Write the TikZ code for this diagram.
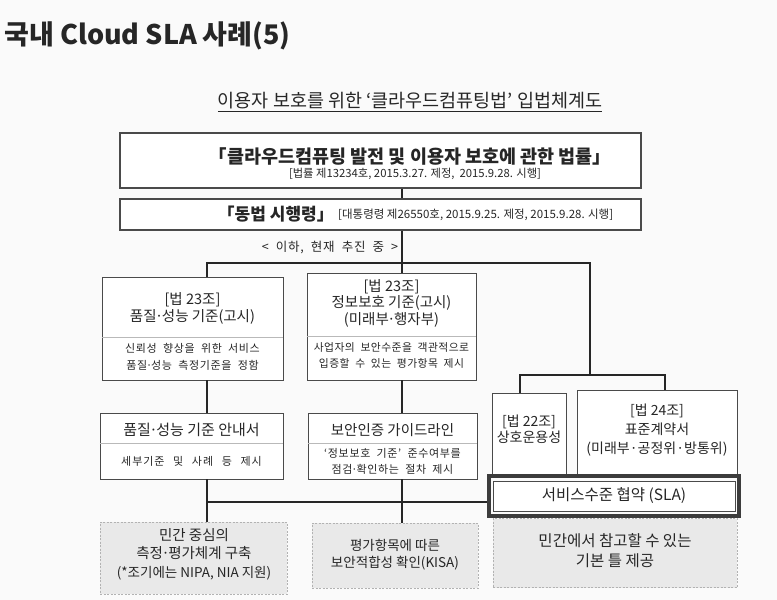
\documentclass[tikz,border=0pt]{standalone}
\usepackage{fontspec}
\setmainfont{Noto Sans CJK KR}
\newfontfamily\widefont{Noto Sans CJK KR}[LetterSpace=6,WordSpace=2]
\newfontfamily\widerfont{Noto Sans CJK KR}[LetterSpace=9,WordSpace=2.5]
\newfontfamily\midfont{Noto Sans CJK KR}[LetterSpace=4,WordSpace=2]
\usetikzlibrary{positioning}
\definecolor{ink}{HTML}{262626}
\definecolor{boxline}{HTML}{4A4A4A}
\definecolor{grayfill}{HTML}{E9E9E9}
\newcommand{\fsz}[2]{\fontsize{#1}{#2}\selectfont}
\newcommand{\ndot}{\kern-.1em·\kern-.1em}
\tikzset{
  lawbox/.style={draw=boxline, line width=1.2pt, fill=white, minimum width=521pt, inner sep=0pt},
  itembox/.style={draw=boxline, line width=0.9pt, fill=white, inner sep=0pt},
  graybox/.style={draw=gray!60, dash pattern=on 2pt off 1.5pt, line width=0.7pt, fill=grayfill, inner sep=0pt},
  conn/.style={draw=ink, line width=1.4pt},
  divline/.style={draw=gray!55, line width=0.7pt},
  txt/.style={text=ink, align=center, inner sep=0pt},
}
\begin{document}
\begin{tikzpicture}[x=1pt,y=-1pt]
    \path[use as bounding box, fill=gray!4] (0,0) rectangle (777,600);

    % headings
    \node[txt, anchor=west, font=\fsz{27}{30}\bfseries] (title) at (4,36) {국내 Cloud SLA 사례(5)};
    \node[txt, font=\fsz{18.5}{22}] (subtitle) at (410,102) {\underline{이용자 보호를 위한 ‘클라우드컴퓨팅법’ 입법체계도}};

    % law and decree
    \node[lawbox, minimum height=55pt] (law) at (380.5,160.5) {};
    \node[txt, font=\fsz{18.5}{20}\bfseries] (lawname) at (410,156) {「클라우드컴퓨팅 발전 및 이용자 보호에 관한 법률」};
    \node[txt, font=\fsz{11.3}{12}] (lawinfo) at (415,174) {[법률 제13234호, 2015.3.27. 제정, \ 2015.9.28. 시행]};
    \node[lawbox, minimum height=31pt] (decree) at (380.5,214.5) {};
    \node[txt, anchor=east, font=\fsz{17}{20}\bfseries] (decreename) at (334,214) {「동법 시행령」};
    \node[txt, anchor=west, font=\fsz{11.5}{12}] (decreeinfo) at (338,215) {[대통령령 제26550호, 2015.9.25. 제정, 2015.9.28. 시행]};
    \node[txt, font=\widefont\fsz{12.5}{13}] (now) at (330,248) {< 이하, 현재 추진 중 >};

    \coordinate (split) at (402,263);
    \coordinate (bA) at (207,263);
    \coordinate (bC) at (590,263);
    \coordinate (rsplit) at (590,375);
    \coordinate (rL) at (520,375);
    \coordinate (rR) at (665,375);
    \coordinate (join) at (207,502);

    % notices (row 2)
    \node[itembox, minimum width=181pt, minimum height=103pt] (qos) at (192.5,328.5) {};
    \node[txt, font=\fsz{14.5}{17}] (qostitle) at (192.5,308) {[법 23조]\\품질\ndot 성능 기준(고시)};
    \draw[divline] ([yshift=-61pt]qos.north west) -- ([yshift=-61pt]qos.north east);
    \node[txt, font=\widefont\fsz{11}{17}] (qosdesc) at (192.5,357) {신뢰성 향상을 위한 서비스\\품질\ndot 성능 측정기준을 정함};

    \node[itembox, minimum width=169pt, minimum height=107pt] (sec) at (391.5,326.5) {};
    \node[txt, font=\fsz{14.5}{16.5}] (sectitle) at (391.5,303) {[법 23조]\\정보보호 기준(고시)\\(미래부\ndot 행자부)};
    \draw[divline] ([yshift=-64pt]sec.north west) -- ([yshift=-64pt]sec.north east);
    \node[txt, font=\midfont\fsz{10.8}{16}] (secdesc) at (391.5,355) {사업자의 보안수준을 객관적으로\\입증할 수 있는 평가항목 제시};

    % guides (row 3)
    \node[itembox, minimum width=183pt, minimum height=66pt] (qosg) at (191.5,446) {};
    \node[txt, font=\fsz{15}{17}] (qosgtitle) at (191.5,430) {품질\ndot 성능 기준 안내서};
    \draw[divline] ([yshift=-31pt]qosg.north west) -- ([yshift=-31pt]qosg.north east);
    \node[txt, font=\widerfont\fsz{11}{16}] (qosgdesc) at (191.5,461) {세부기준 및 사례 등 제시};

    \node[itembox, minimum width=169pt, minimum height=66pt] (secg) at (392.5,446) {};
    \node[txt, font=\fsz{14.5}{17}] (secgtitle) at (392.5,430) {보안인증 가이드라인};
    \draw[divline] ([yshift=-31pt]secg.north west) -- ([yshift=-31pt]secg.north east);
    \node[txt, font=\widefont\fsz{11}{16}] (secgdesc) at (392.5,461) {‘정보보호 기준’ 준수여부를\\점검\ndot 확인하는 절차 제시};

    % private side (row 4)
    \node[graybox, minimum width=187pt, minimum height=72pt] (pvt) at (193.5,558) {};
    \node[txt, font=\fsz{14.5}{18.5}] (pvttext) at (194,554) {민간 중심의\\측정\ndot 평가체계 구축\\{\fsz{13.5}{14}(*조기에는 NIPA, NIA 지원)}};
    \node[graybox, minimum width=166pt, minimum height=65pt] (kisa) at (395,555.5) {};
    \node[txt, font=\fsz{13.5}{17}] (kisatext) at (395,555) {평가항목에 따른\\보안적합성 확인(KISA)};

    % right column
    \node[itembox, minimum width=74pt, minimum height=81pt] (iop) at (529,433.5) {};
    \node[txt, font=\fsz{14}{16}] (ioptext) at (529,429) {[법 22조]\\상호운용성};
    \node[itembox, minimum width=160pt, minimum height=84pt] (contract) at (657,432) {};
    \node[txt, font=\fsz{14}{19}] (contracttext) at (657,430) {[법 24조]\\표준계약서\\(미래부·공정위·방통위)};
    \node[graybox, minimum width=244pt, minimum height=69pt] (ref) at (615,553) {};
    \node[txt, font=\fsz{15.5}{20}] (reftext) at (615,551) {민간에서 참고할 수 있는\\기본 틀 제공};
    \node[draw=ink!90, line width=4pt, minimum width=250pt, minimum height=40pt, inner sep=0pt] (sla) at (614,496) {};
    \node[itembox, minimum width=242pt, minimum height=30pt, font=\fsz{15.5}{16}, text=ink] (slain) at (614,496) {서비스수준 협약 (SLA)};

    % connectors
    \draw[conn] (law.south -| split) -- (decree.north -| split);
    \draw[conn] (decree.south -| split) -- (split) -- (sec.north -| split);
    \draw[conn] (qos.north -| bA) -- (bA) -- (bC) -- (rsplit);
    \draw[conn] (iop.north -| rL) -- (rL) -- (rR) -- (contract.north -| rR);
    \draw[conn] (qos.south -| bA) -- (qosg.north -| bA);
    \draw[conn] (sec.south -| split) -- (secg.north -| split);
    \draw[conn] (qosg.south -| join) -- (pvt.north -| join);
    \draw[conn] (secg.south -| split) -- (kisa.north -| split);
    \draw[conn] (join) -- (join -| sla.west);
\end{tikzpicture}
\end{document}
